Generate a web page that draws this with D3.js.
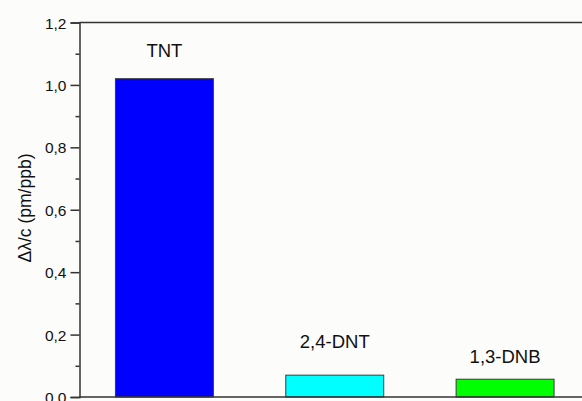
<!DOCTYPE html>
<html>
<head>
<meta charset="utf-8">
<script src="https://cdn.jsdelivr.net/npm/d3@7"></script>
<style>
  html, body { margin: 0; padding: 0; background: #fcfcfa; }
  svg { display: block; }
  text { font-family: Arial, "Liberation Sans", sans-serif; fill: #111; }
</style>
</head>
<body>
<svg id="chart" width="582" height="401"></svg>
<script>
// Sensitivity of the wavelength shift per concentration for each nitro compound
const compounds = ["TNT", "2,4-DNT", "1,3-DNB"];
const sensitivity = [1.02, 0.07, 0.057];
const barColors = ["#0000ff", "#00ffff", "#00ff00"];
const yTicks = [0, 0.2, 0.4, 0.6, 0.8, 1.0, 1.2];
const yMinorTicks = [0.1, 0.3, 0.5, 0.7, 0.9, 1.1];

const svg = d3.select("#chart");
const plotLeft = 79.5, plotTop = 22.5, plotBottom = 397, plotRight = 590;

const x = d3.scaleBand()
  .domain(compounds)
  .range([plotLeft, plotRight])
  .paddingInner(0.425)
  .paddingOuter(0.211);

const y = d3.scaleLinear().domain([0, 1.2]).range([plotBottom, plotTop]);

// Bars
svg.append("g").selectAll("rect")
  .data(compounds)
  .join("rect")
  .attr("x", d => x(d))
  .attr("width", x.bandwidth())
  .attr("y", (d, i) => y(sensitivity[i]))
  .attr("height", (d, i) => y(0) - y(sensitivity[i]))
  .attr("fill", (d, i) => barColors[i])
  .attr("stroke", "#3a3a3a")
  .attr("stroke-width", 1);

// Compound names above the bars
const labelLift = [22, 27, 16.5];
svg.append("g").selectAll("text")
  .data(compounds)
  .join("text")
  .attr("x", d => x(d) + x.bandwidth() / 2)
  .attr("y", (d, i) => y(sensitivity[i]) - labelLift[i])
  .attr("text-anchor", "middle")
  .style("font-size", "18.5px")
  .text(d => d);

// Frame lines: top and bottom
svg.append("line")
  .attr("x1", plotLeft).attr("x2", 582)
  .attr("y1", plotTop).attr("y2", plotTop)
  .attr("stroke", "#333").attr("stroke-width", 1.5);
svg.append("line")
  .attr("x1", plotLeft).attr("x2", 582)
  .attr("y1", plotBottom).attr("y2", plotBottom)
  .attr("stroke", "#333").attr("stroke-width", 1.5);

// Y axis with major and minor ticks
const fmt = d => d3.format(".1f")(d).replace(".", ",");
const yAxis = svg.append("g")
  .attr("transform", `translate(${plotLeft},0)`)
  .call(d3.axisLeft(y).tickValues(yTicks).tickFormat(fmt).tickSize(9).tickPadding(4));
yAxis.select(".domain").attr("stroke", "#333").attr("stroke-width", 1.5);
yAxis.selectAll(".tick line").attr("stroke", "#333").attr("stroke-width", 1.5);
yAxis.selectAll(".tick text")
  .style("font-size", "15.5px")
  .style("font-family", "Arial, 'Liberation Sans', sans-serif")
  .attr("fill", "#111")
  .attr("dy", "0.36em");

const yMinor = svg.append("g")
  .attr("transform", `translate(${plotLeft},0)`)
  .call(d3.axisLeft(y).tickValues(yMinorTicks).tickFormat("").tickSize(4));
yMinor.select(".domain").remove();
yMinor.selectAll(".tick line").attr("stroke", "#333").attr("stroke-width", 1.5);

// Y axis title
svg.append("text")
  .attr("transform", "translate(31,208) rotate(-90)")
  .attr("text-anchor", "middle")
  .style("font-size", "17.5px")
  .text("Δλ/c (pm/ppb)");
</script>
</body>
</html>
